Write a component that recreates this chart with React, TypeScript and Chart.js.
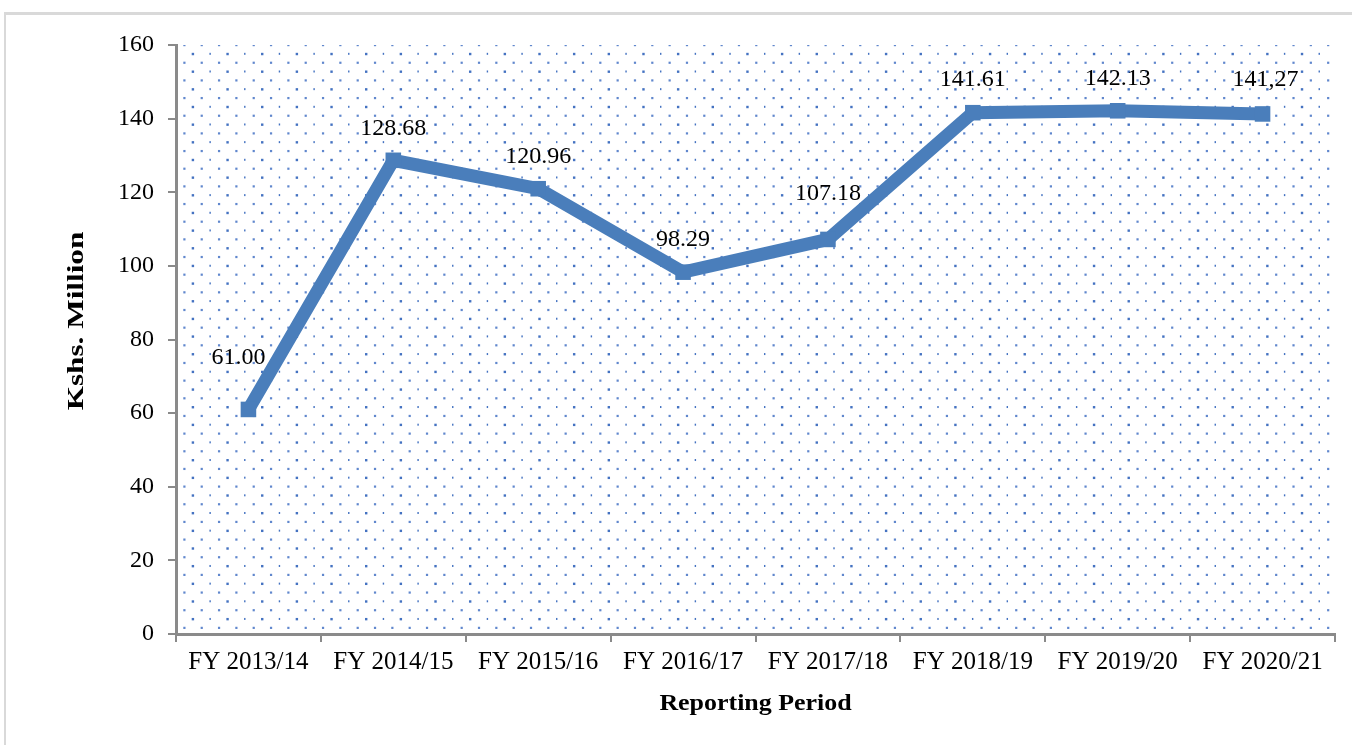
import React, { useEffect, useRef } from 'react';
import { Chart, registerables } from 'chart.js';

Chart.register(...registerables);

const categories = [
  'FY 2013/14',
  'FY 2014/15',
  'FY 2015/16',
  'FY 2016/17',
  'FY 2017/18',
  'FY 2018/19',
  'FY 2019/20',
  'FY 2020/21',
];
const values = [61.0, 128.68, 120.96, 98.29, 107.18, 141.61, 142.13, 141.27];
const valueLabels = ['61.00', '128.68', '120.96', '98.29', '107.18', '141.61', '142.13', '141,27'];
const yMin = 0;
const yMax = 160;
const yStep = 20;

const FONT = "'Liberation Serif', 'Times New Roman', serif";
const AXIS_COLOR = '#8a8a8a';
const LINE_COLOR = '#4a7ebb';

// label placement relative to each point (dx, dy above point)
const labelShift: [number, number][] = [
  [-10, 52],
  [0, 32],
  [0, 32],
  [0, 32],
  [0, 46],
  [0, 33],
  [0, 32],
  [3, 34],
];

const patternPlugin = {
  id: 'dotPattern',
  beforeDatasetsDraw(chart: any) {
    const { ctx, chartArea } = chart;
    const { left, top, right, bottom } = chartArea;
    ctx.save();
    ctx.beginPath();
    ctx.rect(left + 2, top, right - left - 2, bottom - top - 2);
    ctx.clip();
    const sx = 17.33;
    const sy = 8.83;
    let row = 0;
    for (let y = top; y < bottom; y += sy, row++) {
      const odd = row % 2 === 1;
      const x0 = left + (odd ? 16.7 : 8.3);
      let col = 0;
      for (let x = x0; x < right; x += sx, col++) {
        if (odd) {
          ctx.fillStyle = 'rgba(58,106,190,0.95)';
          if (col % 2 === 0) ctx.fillRect(x - 1, y - 1, 2.4, 2.4);
          else ctx.fillRect(x - 0.6, y - 1, 1.4, 2);
        } else {
          ctx.fillStyle = 'rgba(68,114,196,0.85)';
          ctx.fillRect(x - 1, y - 1, 2.2, 2.2);
        }
      }
    }
    ctx.restore();
  },
};

const labelPlugin = {
  id: 'valueLabels',
  afterDatasetsDraw(chart: any) {
    const { ctx } = chart;
    const meta = chart.getDatasetMeta(0);
    ctx.save();
    ctx.font = `24px ${FONT}`;
    ctx.fillStyle = '#000';
    ctx.textAlign = 'center';
    ctx.textBaseline = 'middle';
    meta.data.forEach((pt: any, i: number) => {
      const [dx, dy] = labelShift[i] || [0, 32];
      ctx.fillText(valueLabels[i], pt.x + dx, pt.y - dy);
    });
    ctx.restore();
  },
};

const titlePlugin = {
  id: 'axisTitles',
  afterDraw(chart: any) {
    const { ctx, chartArea } = chart;
    ctx.save();
    ctx.fillStyle = '#000';
    ctx.textAlign = 'center';
    ctx.textBaseline = 'middle';
    ctx.font = `bold 24px ${FONT}`;
    ctx.save();
    ctx.translate((chartArea.left + chartArea.right) / 2, 704);
    ctx.scale(1.08, 1);
    ctx.fillText('Reporting Period', 0, 0);
    ctx.restore();
    ctx.save();
    ctx.translate(77, 321);
    ctx.rotate(-Math.PI / 2);
    ctx.scale(1.3, 1);
    ctx.fillText('Kshs. Million', 0, 0);
    ctx.restore();
    ctx.restore();
  },
};

export default function App() {
  const canvasRef = useRef<HTMLCanvasElement | null>(null);

  useEffect(() => {
    if (!canvasRef.current) return;
    const chart = new Chart(canvasRef.current, {
      type: 'line',
      data: {
        labels: categories,
        datasets: [
          {
            data: values,
            borderColor: LINE_COLOR,
            backgroundColor: LINE_COLOR,
            borderWidth: 13,
            borderJoinStyle: 'miter',
            borderCapStyle: 'butt',
            pointStyle: 'rect',
            pointRadius: 11,
            pointBorderWidth: 0,
            pointBackgroundColor: LINE_COLOR,
            tension: 0,
            fill: false,
          },
        ],
      },
      options: {
        responsive: false,
        animation: false,
        layout: { padding: { top: 45, right: 17, left: 0, bottom: 0 } },
        plugins: {
          legend: { display: false },
          tooltip: { enabled: false },
          title: { display: false },
        },
        scales: {
          x: {
            type: 'category',
            offset: true,
            grid: {
              offset: true,
              drawOnChartArea: false,
              drawTicks: true,
              tickLength: 8,
              color: AXIS_COLOR,
              lineWidth: 2,
            },
            border: { display: true, color: AXIS_COLOR, width: 3 },
            ticks: {
              font: { family: FONT, size: 25 },
              color: '#000',
              padding: 5,
              maxRotation: 0,
              autoSkip: false,
            },
            afterFit(scale: any) {
              scale.height = 745 - 634;
            },
          },
          y: {
            min: yMin,
            max: yMax,
            grid: {
              drawOnChartArea: false,
              drawTicks: true,
              tickLength: 8,
              color: AXIS_COLOR,
              lineWidth: 2,
            },
            border: { display: true, color: AXIS_COLOR, width: 3 },
            ticks: {
              stepSize: yStep,
              font: { family: FONT, size: 24 },
              color: '#000',
              padding: 14,
            },
            afterFit(scale: any) {
              scale.width = 176;
            },
          },
        },
      },
      plugins: [patternPlugin, labelPlugin, titlePlugin],
    } as any);
    return () => chart.destroy();
  }, []);

  return (
    <div
      style={{
        position: 'fixed',
        left: 0,
        top: 0,
        width: 1352,
        height: 745,
        overflow: 'hidden',
        background: '#fff',
      }}
    >
      <div
        style={{
          position: 'absolute',
          left: 4,
          top: 12,
          width: 1400,
          height: 800,
          borderTop: '3px solid #d9d9d9',
          borderLeft: '2px solid #d9d9d9',
        }}
      />
      <canvas
        ref={canvasRef}
        width={1352}
        height={745}
        style={{ position: 'absolute', left: 0, top: 0, width: 1352, height: 745 }}
      />
    </div>
  );
}
